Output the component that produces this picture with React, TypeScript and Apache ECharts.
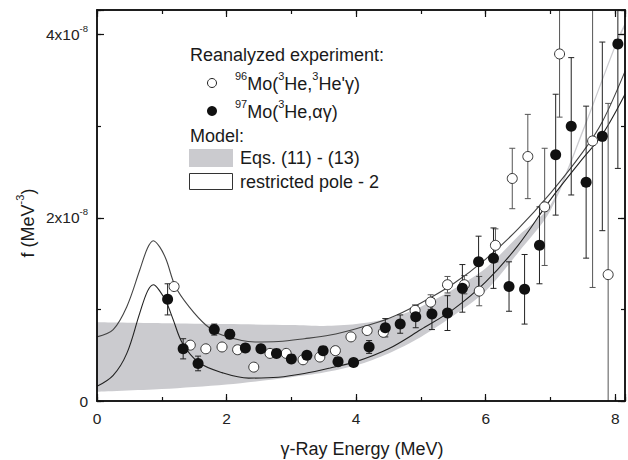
import React, { useEffect, useRef } from "react";
import * as echarts from "echarts";

// ---- data (f in units of 1e-8 MeV^-3, E in MeV) ----
const filledE = [1.09, 1.33, 1.56, 1.81, 2.05, 2.29, 2.53, 2.77, 3.0, 3.24, 3.49, 3.72, 3.96, 4.2, 4.45, 4.68, 4.92, 5.17, 5.41, 5.64, 5.89, 6.12, 6.36, 6.6, 6.83, 7.08, 7.32, 7.55, 7.8, 8.04];
const filledF = [1.11, 0.57, 0.41, 0.78, 0.73, 0.58, 0.57, 0.52, 0.46, 0.5, 0.55, 0.43, 0.42, 0.59, 0.8, 0.84, 0.92, 0.95, 0.96, 1.23, 1.52, 1.56, 1.25, 1.22, 1.7, 2.69, 3.0, 2.39, 2.89, 3.9];
const filledErr = [0.17, 0.11, 0.08, 0.06, 0.05, 0.04, 0.04, 0.04, 0.04, 0.04, 0.04, 0.04, 0.04, 0.07, 0.1, 0.1, 0.12, 0.17, 0.19, 0.26, 0.28, 0.33, 0.27, 0.38, 0.42, 0.66, 0.75, 0.83, 1.03, 1.36];

const openE = [1.19, 1.44, 1.68, 1.93, 2.17, 2.42, 2.67, 2.92, 3.18, 3.44, 3.68, 3.92, 4.17, 4.42, 4.91, 5.15, 5.41, 5.67, 5.9, 6.15, 6.41, 6.65, 6.91, 7.14, 7.65, 7.89];
const openF = [1.25, 0.61, 0.57, 0.59, 0.56, 0.37, 0.52, 0.52, 0.45, 0.48, 0.55, 0.7, 0.77, 0.75, 0.99, 1.08, 1.27, 1.27, 1.2, 1.7, 2.43, 2.67, 2.12, 3.79, 2.84, 1.38];
const openErr = [0.03, 0.04, 0.04, 0.04, 0.04, 0.04, 0.04, 0.04, 0.04, 0.04, 0.04, 0.04, 0.04, 0.04, 0.06, 0.08, 0.09, 0.1, 0.16, 0.18, 0.33, 0.46, 0.64, 0.69, 1.6, 1.87];

// Model "Eqs. (11) - (13)" band
const bandE = [0, 1, 2, 3, 3.5, 4, 4.5, 5, 5.5, 6, 6.5, 7, 7.5, 8, 8.15];
const bandUpper = [0.86, 0.85, 0.84, 0.83, 0.82, 0.84, 0.9, 1.03, 1.22, 1.45, 1.8, 2.14, 2.97, 3.9, 4.13];
const bandLower = [0.1, 0.13, 0.18, 0.26, 0.31, 0.39, 0.52, 0.7, 0.93, 1.2, 1.62, 2.08, 2.93, 3.86, 4.09];

// Model "restricted pole - 2" bounds
const poleUpE = [0, 0.25, 0.46, 0.66, 0.78, 0.87, 0.97, 1.07, 1.21, 1.42, 1.68, 1.93, 2.44, 2.8, 3.2, 3.6, 4.0, 4.5, 5.0, 5.5, 6.0, 6.5, 7.0, 7.5, 7.8, 8.15];
const poleUpF = [0.7, 0.78, 1.03, 1.43, 1.67, 1.75, 1.68, 1.54, 1.25, 1.03, 0.83, 0.72, 0.645, 0.65, 0.68, 0.72, 0.79, 0.9, 1.07, 1.28, 1.55, 1.88, 2.27, 2.72, 3.05, 3.6];
const poleLoE = [0, 0.25, 0.46, 0.66, 0.78, 0.87, 0.97, 1.07, 1.17, 1.32, 1.57, 1.93, 2.34, 2.8, 3.2, 3.6, 4.0, 4.5, 5.0, 5.5, 6.0, 6.5, 7.0, 7.5, 7.8, 8.15];
const poleLoF = [0.16, 0.28, 0.52, 0.96, 1.2, 1.27, 1.2, 1.08, 0.9, 0.63, 0.42, 0.31, 0.25, 0.26, 0.3, 0.36, 0.43, 0.57, 0.78, 1.0, 1.3, 1.7, 2.2, 2.65, 2.91, 3.35];

const xTicks = [0, 2, 4, 6, 8];
const yTicks = [0, 2, 4];

const FONT = "'Liberation Sans', Arial, Helvetica, sans-serif";
const X_MAX = 8.15;
const Y_MAX = 4.27;
const BAND_COLOR = "#cbcbcf";

const zip = (a: number[], b: number[]) => a.map((v, i) => [v, b[i]]);
const zip3 = (a: number[], b: number[], c: number[]) => a.map((v, i) => [v, b[i], c[i]]);

const isTick = (list: number[], v: number) => list.some((t) => Math.abs(t - v) < 1e-9);

function errRender(color: string) {
  return (params: any, api: any) => {
    const x = api.value(0);
    const y = api.value(1);
    const e = api.value(2);
    const top = api.coord([x, y + e]);
    const bot = api.coord([x, Math.max(0, y - e)]);
    const hw = 3;
    const st = { stroke: color, lineWidth: 1 };
    const children: any[] = [
      { type: "line", shape: { x1: top[0], y1: top[1], x2: bot[0], y2: bot[1] }, style: st },
      { type: "line", shape: { x1: top[0] - hw, y1: top[1], x2: top[0] + hw, y2: top[1] }, style: st },
    ];
    if (y - e > 0) {
      children.push({ type: "line", shape: { x1: bot[0] - hw, y1: bot[1], x2: bot[0] + hw, y2: bot[1] }, style: st });
    }
    return { type: "group", children };
  };
}

const axisLineStyle = { color: "#111", width: 1.5 };
const tickStyle = { color: "#111", width: 1.2 };

function makeXAxis(position: string, interval: number, len: number, labels: boolean) {
  return {
    type: "value",
    min: 0,
    max: X_MAX,
    interval,
    position,
    z: 10,
    axisLine: { show: true, onZero: false, lineStyle: axisLineStyle },
    axisTick: { show: true, inside: true, length: len, lineStyle: tickStyle },
    axisLabel: labels
      ? {
          show: true,
          margin: 9,
          fontSize: 15.5,
          fontFamily: FONT,
          color: "#222",
          formatter: (v: number) => (isTick(xTicks, v) ? String(v) : ""),
        }
      : { show: false },
    splitLine: { show: false },
  };
}

function makeYAxis(position: string, interval: number, len: number, labels: boolean) {
  return {
    type: "value",
    min: 0,
    max: Y_MAX,
    interval,
    position,
    z: 10,
    axisLine: { show: true, onZero: false, lineStyle: axisLineStyle },
    axisTick: { show: true, inside: true, length: len, lineStyle: tickStyle },
    axisLabel: labels
      ? {
          show: true,
          margin: 9,
          fontSize: 15.5,
          fontFamily: FONT,
          color: "#222",
          formatter: (v: number) => {
            if (!isTick(yTicks, v)) return "";
            if (Math.abs(v) < 1e-9) return "0";
            return `{n|${v}x10}{sup|-8}`;
          },
          rich: {
            n: { fontSize: 15.5, fontFamily: FONT, color: "#222", lineHeight: 22 },
            sup: { fontSize: 9.5, fontFamily: FONT, color: "#222", lineHeight: 11, verticalAlign: "top" },
          },
        }
      : { show: false },
    splitLine: { show: false },
  };
}

const legendRich = {
  n: { fontSize: 18, fontFamily: FONT, fill: "#1a1a1a", lineHeight: 28 },
  sup: { fontSize: 11, fontFamily: FONT, fill: "#1a1a1a", lineHeight: 12, verticalAlign: "top" },
};

function txt(x: number, y: number, text: string, extra: any = {}) {
  return {
    type: "text",
    x,
    y,
    z: 100,
    style: {
      text,
      fontSize: 18,
      fontFamily: FONT,
      fill: "#1a1a1a",
      align: "left",
      verticalAlign: "middle",
      ...extra,
    },
  };
}

export default function App() {
  const ref = useRef<HTMLDivElement>(null);

  useEffect(() => {
    if (!ref.current) return;
    const chart = echarts.init(ref.current, undefined, { renderer: "svg" });

    const option: any = {
      animation: false,
      backgroundColor: "#fff",
      grid: { left: 97, top: 10, width: 533, height: 391, containLabel: false },
      xAxis: [
        makeXAxis("bottom", 2, 7, true),
        makeXAxis("top", 2, 7, false),
        makeXAxis("bottom", 1, 4, false),
        makeXAxis("top", 1, 4, false),
      ],
      yAxis: [
        makeYAxis("left", 2, 7, true),
        makeYAxis("right", 2, 7, false),
        makeYAxis("left", 1, 4, false),
        makeYAxis("right", 1, 4, false),
      ],
      series: [
        {
          name: "bandUpper",
          type: "line",
          data: zip(bandE, bandUpper),
          smooth: 0.3,
          symbol: "none",
          lineStyle: { width: 0, opacity: 0 },
          areaStyle: { color: BAND_COLOR, opacity: 1 },
          z: 1,
          silent: true,
        },
        {
          name: "bandLower",
          type: "line",
          data: zip(bandE, bandLower),
          smooth: 0.3,
          symbol: "none",
          lineStyle: { width: 0, opacity: 0 },
          areaStyle: { color: "#ffffff", opacity: 1 },
          z: 2,
          silent: true,
        },
        {
          name: "poleUpper",
          type: "line",
          data: zip(poleUpE, poleUpF),
          smooth: 0.35,
          symbol: "none",
          lineStyle: { color: "#444", width: 1.1 },
          z: 3,
        },
        {
          name: "poleLower",
          type: "line",
          data: zip(poleLoE, poleLoF),
          smooth: 0.35,
          symbol: "none",
          lineStyle: { color: "#222", width: 1.1 },
          z: 3,
        },
        {
          name: "errOpen",
          type: "custom",
          data: zip3(openE, openF, openErr),
          encode: { x: 0, y: 1 },
          renderItem: errRender("#555"),
          clip: true,
          z: 4,
        },
        {
          name: "errFilled",
          type: "custom",
          data: zip3(filledE, filledF, filledErr),
          encode: { x: 0, y: 1 },
          renderItem: errRender("#222"),
          clip: true,
          z: 4,
        },
        {
          name: "96Mo",
          type: "scatter",
          data: zip(openE, openF),
          symbol: "circle",
          symbolSize: 10,
          itemStyle: { color: "#fff", borderColor: "#333", borderWidth: 1, opacity: 1 },
          z: 5,
        },
        {
          name: "97Mo",
          type: "scatter",
          data: zip(filledE, filledF),
          symbol: "circle",
          symbolSize: 11,
          itemStyle: { color: "#111", opacity: 1 },
          z: 6,
        },
      ],
      graphic: [
        txt(190, 55, "Reanalyzed experiment:"),
        { type: "circle", z: 100, shape: { cx: 212, cy: 83, r: 4.5 }, style: { fill: "#fff", stroke: "#222", lineWidth: 1 } },
        txt(235, 84, "{sup|96}{n|Mo(}{sup|3}{n|He,}{sup|3}{n|He'γ)}", { rich: legendRich }),
        { type: "circle", z: 100, shape: { cx: 212, cy: 111, r: 5 }, style: { fill: "#111" } },
        txt(235, 112, "{sup|97}{n|Mo(}{sup|3}{n|He,αγ)}", { rich: legendRich }),
        txt(190, 136, "Model:"),
        { type: "rect", z: 100, shape: { x: 189, y: 149, width: 44, height: 18 }, style: { fill: BAND_COLOR } },
        txt(240, 158, "Eqs. (11) - (13)"),
        { type: "rect", z: 100, shape: { x: 189.5, y: 173.5, width: 43, height: 16 }, style: { fill: "#fff", stroke: "#333", lineWidth: 1 } },
        txt(240, 182, "restricted pole - 2"),
        txt(362, 449, "γ-Ray Energy (MeV)", { align: "center", fontSize: 18 }),
        {
          type: "text",
          x: 28,
          y: 223,
          rotation: Math.PI / 2,
          z: 100,
          style: {
            text: "{n|f (MeV}{sup|-3}{n|)}",
            rich: legendRich,
            fontSize: 18,
            fontFamily: FONT,
            fill: "#1a1a1a",
            align: "center",
            verticalAlign: "middle",
          },
        },
      ],
    };

    chart.setOption(option);
    return () => chart.dispose();
  }, []);

  return (
    <div
      ref={ref}
      style={{ position: "fixed", left: 0, top: 0, width: 628, height: 460, background: "#fff" }}
    />
  );
}
